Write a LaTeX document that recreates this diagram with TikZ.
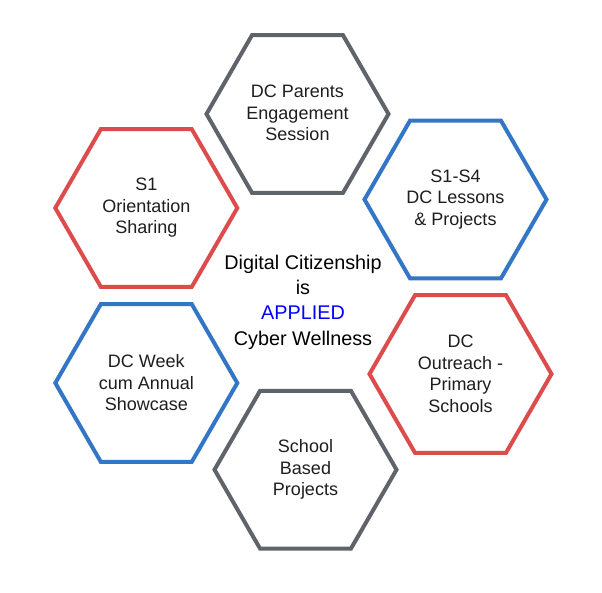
\documentclass[tikz,border=0pt]{standalone}
\usepackage{fontspec}
\setmainfont{Liberation Sans}
\usetikzlibrary{shapes.geometric}
\definecolor{hexgray}{RGB}{95,100,106}
\definecolor{hexred}{RGB}{221,76,76}
\definecolor{hexblue}{RGB}{52,118,198}
\definecolor{txtgray}{RGB}{30,30,30}
\tikzset{
  hexa/.style={regular polygon, regular polygon sides=6, minimum size=182pt,
    inner sep=0pt, outer sep=0pt, line width=4pt, align=center,
    text=txtgray, font=\fontsize{18}{21.5}\selectfont},
  hgray/.style={hexa, draw=hexgray},
  hred/.style={hexa, draw=hexred},
  hblue/.style={hexa, draw=hexblue},
  centre/.style={align=center, inner sep=0pt, font=\fontsize{19.8}{25.3}\selectfont}
}
\begin{document}
\begin{tikzpicture}[x=1pt,y=-1pt]
\useasboundingbox (0,0) rectangle (602,592);
\fill[white] (0,0) rectangle (602,592);
\node[hgray] (parents) at (297.5,114) {DC Parents\\Engagement\\Session\rule[-2pt]{0pt}{0pt}};
\node[hblue] (lessons) at (455.5,199.5) {S1-S4\\DC Lessons\\\& Projects};
\node[hred] (orient) at (146.3,208) {S1\\Orientation\\Sharing};
\node[hblue] (week) at (146.3,383) {DC Week\\cum Annual\\Showcase};
\node[hred] (outreach) at (460.5,374) {DC\\Outreach -\\Primary\\Schools};
\node[hgray] (school) at (305.5,469.7) {School\\Based\\Projects};
\node[centre] (dc) at (303,302) {Digital Citizenship\\is\\\textcolor{blue}{APPLIED}\\Cyber Wellness};
\end{tikzpicture}
\end{document}
